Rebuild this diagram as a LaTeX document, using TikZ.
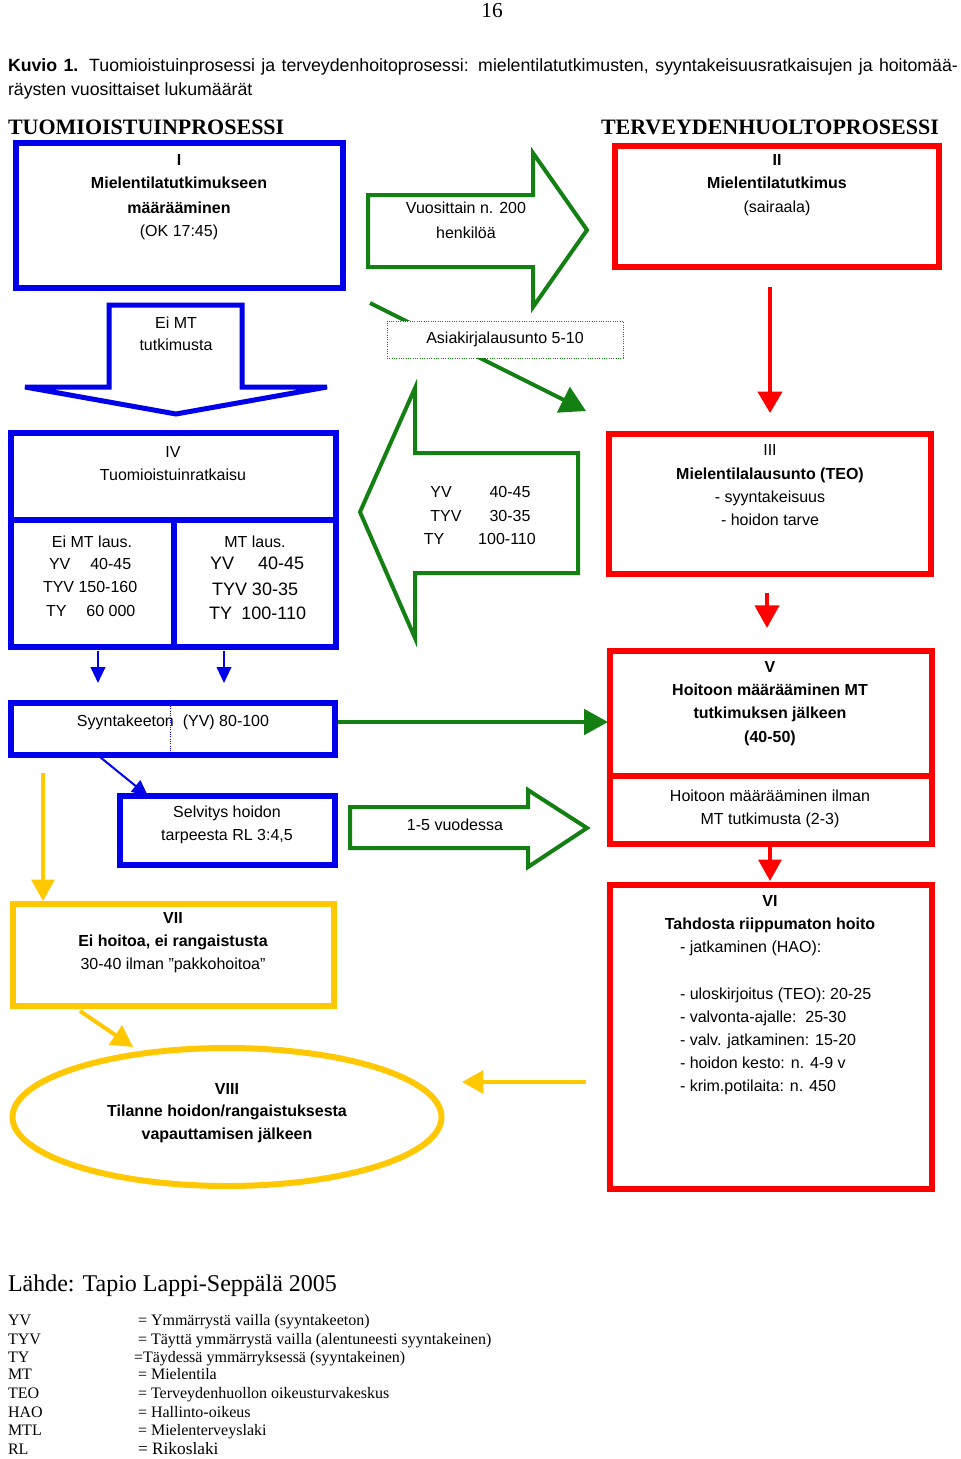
\documentclass[tikz,border=0pt]{standalone}
\usepackage{fontspec}
\setmainfont{Liberation Sans}
\newfontfamily\tms{Liberation Serif}
\usetikzlibrary{arrows.meta,shapes.geometric,calc}
\definecolor{cblue}{RGB}{0,0,235}
\definecolor{cred}{RGB}{255,0,0}
\definecolor{cgreen}{RGB}{20,128,20}
\definecolor{cyel}{RGB}{255,200,0}
\newcounter{tlc}
\newcommand\tline[4][]{\stepcounter{tlc}\node[txt,#1] (tl\arabic{tlc}) at (#2,#3) {#4};}
\newcommand\boxnode[6]{\node[#1, minimum width={(#5-#3)*0.75pt}, minimum height={(#6-#4)*0.75pt}] (#2) at ({(#3+#5)/2},{(#4+#6)/2}) {};}
\begin{document}
\begin{tikzpicture}[x=0.75pt,y=-0.75pt,
  txt/.style={anchor=base, inner sep=0pt, outer sep=0pt, font=\fontsize{12}{14}\selectfont},
  txb/.style={font=\fontsize{12}{14}\selectfont\bfseries},
  big/.style={font=\fontsize{13.5}{15}\selectfont},
  tmsf/.style={font=\tms\fontsize{12}{14}\selectfont},
  bluebox/.style={draw=cblue, line width=4.5pt, inner sep=0pt, outer sep=0pt},
  redbox/.style={draw=cred, line width=4.5pt, inner sep=0pt, outer sep=0pt},
  yelbox/.style={draw=cyel, line width=4.5pt, inner sep=0pt, outer sep=0pt},
  blk/.style={draw=cgreen, line width=3pt, line join=miter, fill=white},
  redarr/.style={draw=cred, line width=3pt, -{Triangle[length=16pt,width=18pt]}},
  greenarr/.style={draw=cgreen, line width=3pt, -{Triangle[length=18pt,width=19pt]}},
  bluearr/.style={draw=cblue, line width=1.5pt, -{Triangle[length=12pt,width=11pt]}},
  yelarr/.style={draw=cyel, line width=3pt, -{Triangle[length=16pt,width=17pt]}}
]
\fill[white] (0,0) rectangle (960,1459);
\useasboundingbox (0,0) rectangle (960,1459);

% page number, title, headers
\node[txt, font=\tms\fontsize{16}{18}\selectfont] (pg) at (492,18) {16};
\node[txt, anchor=base west, font=\fontsize{13.3}{15}\selectfont] (title1) at (8,72) {\makebox[712.5pt][s]{\textbf{Kuvio 1.} Tuomioistuinprosessi ja terveydenhoitoprosessi: mielentilatutkimusten, syyntakeisuusratkaisujen ja hoitomää-}};
\node[txt, anchor=base west, font=\fontsize{13.3}{15}\selectfont] (title2) at (8,96) {räysten vuosittaiset lukumäärät};
\node[txt, anchor=base west, font=\tms\bfseries\fontsize{16.5}{18}\selectfont] (h1) at (8,135) {TUOMIOISTUINPROSESSI};
\node[txt, anchor=base west, font=\tms\bfseries\fontsize{16.5}{18}\selectfont] (h2) at (601,135) {TERVEYDENHUOLTOPROSESSI};

% thin connectors (drawn first)
\coordinate (gd1) at (370,303); \coordinate (gd2) at (586,411);
\draw[draw=cgreen, line width=3pt, -{Triangle[length=19pt,width=21pt]}] (gd1) -- (gd2);
\coordinate (r1a) at (770,287); \coordinate (r1b) at (770,413);
\draw[redarr] (r1a) -- (r1b);
\coordinate (r2a) at (767,593); \coordinate (r2b) at (767,628);
\draw[draw=cred, line width=3pt, -{Triangle[length=17pt,width=18pt]}] (r2a) -- (r2b);
\coordinate (r3a) at (770,847); \coordinate (r3b) at (770,881);
\draw[draw=cred, line width=3pt, -{Triangle[length=16pt,width=17pt]}] (r3a) -- (r3b);
\coordinate (bs1a) at (98,651); \coordinate (bs1b) at (98,683);
\coordinate (bs2a) at (224,651); \coordinate (bs2b) at (224,683);
\draw[bluearr] (bs1a) -- (bs1b);
\draw[bluearr] (bs2a) -- (bs2b);
\coordinate (g1a) at (337,722); \coordinate (g1b) at (608,722);
\draw[greenarr] (g1a) -- (g1b);
\coordinate (bd1) at (100,757); \coordinate (bd2) at (148,796);
\draw[bluearr] (bd1) -- (bd2);
\coordinate (y1a) at (43,773); \coordinate (y1b) at (43,901);
\draw[yelarr] (y1a) -- (y1b);
\coordinate (y2a) at (80,1011); \coordinate (y2b) at (133,1047);
\draw[yelarr] (y2a) -- (y2b);
\coordinate (y3a) at (586,1082); \coordinate (y3b) at (462,1082);
\draw[yelarr] (y3a) -- (y3b);

% block arrows
\draw[blk] (368,195) -- (533,195) -- (533,153) -- (587,230) -- (533,307) -- (533,267) -- (368,267) -- cycle;
\draw[blk] (360,512) -- (415,388) -- (415,453) -- (578,453) -- (578,573) -- (415,573) -- (415,638) -- cycle;
\draw[blk] (350,807) -- (528,807) -- (528,790) -- (587,828) -- (528,867) -- (528,848) -- (350,848) -- cycle;
\draw[draw=cblue, line width=3.75pt, line join=miter, fill=white] (109,305) -- (242,305) -- (242,387) -- (327,387) -- (176,414) -- (25,387) -- (109,387) -- cycle;

% boxes
\boxnode{bluebox}{b1}{16}{143}{343}{288}
\boxnode{redbox}{b2}{615}{146}{939}{267}
\boxnode{bluebox}{b4}{11}{433}{336}{647}
\boxnode{redbox}{b3}{609}{434}{931}{574}
\boxnode{redbox}{b5}{610}{651}{932}{844}
\boxnode{bluebox}{sy}{11}{703}{335}{755}
\boxnode{bluebox}{se}{120}{796}{335}{865}
\boxnode{redbox}{b6}{610}{885}{932}{1189}
\boxnode{yelbox}{b7}{13}{904}{334}{1006}
\node[ellipse, draw=cyel, line width=4.5pt, inner sep=0pt, minimum width=429*0.75pt, minimum height=138*0.75pt] (b8) at (227,1117) {};
\coordinate (d4) at (0,520); \coordinate (d4v) at (174,0);
\draw[cblue, line width=4.5pt] (b4.west |- d4) -- (b4.east |- d4);
\draw[cblue, line width=4.5pt] (d4v |- d4) -- (d4v |- b4.south);
\coordinate (d5) at (0,776);
\draw[cred, line width=4.5pt] (b5.west |- d5) -- (b5.east |- d5);
\coordinate (dt1) at (170,706); \coordinate (dt2) at (170,752);
\draw[cblue, densely dotted, line width=0.75pt] (dt1) -- (dt2);
\node[draw=cgreen, densely dotted, line width=0.75pt, fill=white, minimum width=236*0.75pt, minimum height=37*0.75pt, inner sep=0pt] (ak) at (505,339.5) {};

% texts box I
\tline[txb]{179}{166}{I}
\tline[txb]{179}{189}{Mielentilatutkimukseen}
\tline[txb]{179}{213}{määrääminen}
\tline{179}{236}{(OK 17:45)}
% box II
\tline[txb]{777}{166}{II}
\tline[txb]{777}{189}{Mielentilatutkimus}
\tline{777}{212}{(sairaala)}
% arrow texts
\tline{466}{214}{Vuosittain n. 200}
\tline{466}{238}{henkilöä}
\tline{176}{328}{Ei MT}
\tline{176}{350}{tutkimusta}
\tline{505}{343}{Asiakirjalausunto 5-10}
% box IV
\tline{173}{457}{IV}
\tline{173}{480}{Tuomioistuinratkaisu}
\tline{92}{547}{Ei MT laus.}
\tline[anchor=base west]{49}{569}{YV\hspace{15pt}40-45}
\tline[anchor=base west]{43}{592}{TYV 150-160}
\tline[anchor=base west]{46}{616}{TY\hspace{15pt}60 000}
\tline{255}{547}{MT laus.}
\tline[big, anchor=base west]{210}{569}{YV\hspace{18pt}40-45}
\tline[big, anchor=base west]{212}{595}{TYV 30-35}
\tline[big, anchor=base west]{209}{619}{TY\hspace{7pt}100-110}
% big left arrow
\tline{441}{497}{YV}
\tline{510}{497}{40-45}
\tline{446}{521}{TYV}
\tline{510}{521}{30-35}
\tline{434}{544}{TY}
\tline{507}{544}{100-110}
% box III
\tline{770}{455}{III}
\tline[txb]{770}{479}{Mielentilalausunto (TEO)}
\tline{770}{502}{- syyntakeisuus}
\tline{770}{525}{- hoidon tarve}
% box V
\tline[txb]{770}{672}{V}
\tline[txb]{770}{695}{Hoitoon määrääminen MT}
\tline[txb]{770}{718}{tutkimuksen jälkeen}
\tline[txb]{770}{742}{(40-50)}
\tline{770}{801}{Hoitoon määrääminen ilman}
\tline{770}{824}{MT tutkimusta (2-3)}
% syyntakeeton / selvitys
\tline{173}{726}{Syyntakeeton\ \ (YV) 80-100}
\tline{227}{817}{Selvitys hoidon}
\tline{227}{840}{tarpeesta RL 3:4,5}
\tline{455}{830}{1-5 vuodessa}
% box VI
\tline[txb]{770}{906}{VI}
\tline[txb]{770}{929}{Tahdosta riippumaton hoito}
\tline[anchor=base west]{680}{952}{- jatkaminen (HAO):}
\tline[anchor=base west]{680}{999}{- uloskirjoitus (TEO): 20-25}
\tline[anchor=base west]{680}{1022}{- valvonta-ajalle:\ \ 25-30}
\tline[anchor=base west]{680}{1045}{- valv. jatkaminen: 15-20}
\tline[anchor=base west]{680}{1068}{- hoidon kesto: n. 4-9 v}
\tline[anchor=base west]{680}{1091}{- krim.potilaita: n. 450}
% box VII
\tline[txb]{173}{923}{VII}
\tline[txb]{173}{946}{Ei hoitoa, ei rangaistusta}
\tline{173}{969}{30-40 ilman ”pakkohoitoa”}
% ellipse VIII
\tline[txb]{227}{1094}{VIII}
\tline[txb]{227}{1116}{Tilanne hoidon/rangaistuksesta}
\tline[txb]{227}{1139}{vapauttamisen jälkeen}

% legend
\node[txt, anchor=base west, font=\tms\fontsize{18}{20}\selectfont] (src) at (8,1291) {Lähde: Tapio Lappi-Seppälä 2005};
\tline[tmsf, anchor=base west]{8}{1325}{YV}
\tline[tmsf, anchor=base west]{138}{1325}{= Ymmärrystä vailla (syyntakeeton)}
\tline[tmsf, anchor=base west]{8}{1344}{TYV}
\tline[tmsf, anchor=base west]{138}{1344}{= Täyttä ymmärrystä vailla (alentuneesti syyntakeinen)}
\tline[tmsf, anchor=base west]{8}{1362}{TY}
\tline[tmsf, anchor=base west]{134}{1362}{=Täydessä ymmärryksessä (syyntakeinen)}
\tline[tmsf, anchor=base west]{8}{1379}{MT}
\tline[tmsf, anchor=base west]{138}{1379}{= Mielentila}
\tline[tmsf, anchor=base west]{8}{1398}{TEO}
\tline[tmsf, anchor=base west]{138}{1398}{= Terveydenhuollon oikeusturvakeskus}
\tline[tmsf, anchor=base west]{8}{1417}{HAO}
\tline[tmsf, anchor=base west]{138}{1417}{= Hallinto-oikeus}
\tline[tmsf, anchor=base west]{8}{1435}{MTL}
\tline[tmsf, anchor=base west]{138}{1435}{= Mielenterveyslaki}
\tline[tmsf, anchor=base west]{8}{1454}{RL}
\tline[tmsf, anchor=base west, font=\tms\fontsize{13}{15}\selectfont]{138}{1454}{= Rikoslaki}
\end{tikzpicture}
\end{document}
